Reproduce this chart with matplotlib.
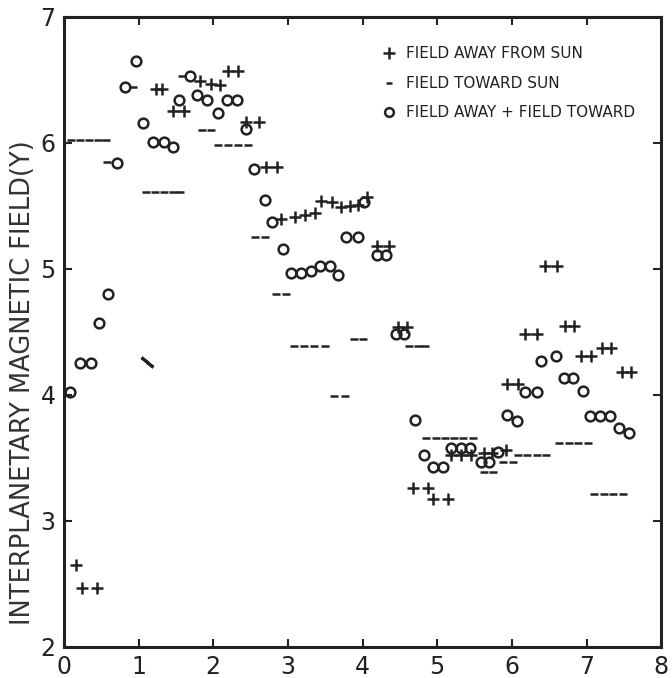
import matplotlib
matplotlib.use('Agg')
from matplotlib import pyplot as plt

# field away from sun (+)
away_x = [0.16, 0.24, 0.44, 1.23, 1.32, 1.46, 1.61, 1.83, 1.97, 2.09,
          2.20, 2.33, 2.44, 2.62, 2.71, 2.85, 2.91, 3.09, 3.23, 3.36,
          3.45, 3.59, 3.71, 3.83, 3.94, 4.06, 4.20, 4.36, 4.47, 4.60,
          4.68, 4.88, 4.94, 5.14, 5.19, 5.32, 5.45, 5.62, 5.74, 5.92,
          5.93, 6.08, 6.17, 6.33, 6.44, 6.60, 6.71, 6.83, 6.93, 7.06,
          7.20, 7.33, 7.47, 7.60]
away_y = [2.65, 2.47, 2.47, 6.43, 6.43, 6.25, 6.25, 6.49, 6.47, 6.46,
          6.57, 6.57, 6.17, 6.17, 5.81, 5.81, 5.40, 5.41, 5.43, 5.44,
          5.54, 5.53, 5.49, 5.50, 5.51, 5.57, 5.18, 5.18, 4.54, 4.54,
          3.26, 3.26, 3.17, 3.17, 3.52, 3.52, 3.52, 3.54, 3.54, 3.56,
          4.09, 4.09, 4.48, 4.48, 5.02, 5.02, 4.55, 4.55, 4.31, 4.31,
          4.37, 4.37, 4.18, 4.18]

# field toward sun (-)
toward_x = [0.10, 0.22, 0.34, 0.46, 0.56, 0.58, 0.93, 1.10, 1.22, 1.34,
            1.46, 1.56, 1.58, 1.85, 1.97, 2.07, 2.20, 2.33, 2.46, 2.56,
            2.70, 2.84, 2.97, 3.08, 3.22, 3.35, 3.50, 3.62, 3.76, 3.88,
            4.01, 4.62, 4.74, 4.84, 4.85, 4.98, 5.10, 5.22, 5.35, 5.48,
            5.62, 5.75, 5.88, 6.01, 6.08, 6.20, 6.33, 6.46, 6.63, 6.76,
            6.89, 7.02, 7.10, 7.23, 7.36, 7.49]
toward_y = [6.02, 6.02, 6.02, 6.02, 6.02, 5.85, 6.44, 5.61, 5.61, 5.61,
            5.61, 5.61, 6.53, 6.10, 6.10, 5.98, 5.98, 5.98, 5.98, 5.25,
            5.25, 4.80, 4.80, 4.39, 4.39, 4.39, 4.39, 3.99, 3.99, 4.44,
            4.44, 4.39, 4.39, 4.39, 3.66, 3.66, 3.66, 3.66, 3.66, 3.66,
            3.39, 3.39, 3.47, 3.47, 3.52, 3.52, 3.52, 3.52, 3.62, 3.62,
            3.62, 3.62, 3.21, 3.21, 3.21, 3.21]
slant_x = [1.12]
slant_y = [4.26]

# field away + field toward (o)
both_x = [0.08, 0.21, 0.36, 0.47, 0.59, 0.71, 0.82, 0.96, 1.06, 1.19,
          1.34, 1.46, 1.54, 1.69, 1.78, 1.92, 2.06, 2.18, 2.32, 2.44,
          2.54, 2.69, 2.79, 2.94, 3.04, 3.18, 3.31, 3.43, 3.57, 3.67,
          3.78, 3.94, 4.02, 4.19, 4.32, 4.45, 4.56, 4.70, 4.82, 4.94,
          5.08, 5.19, 5.32, 5.44, 5.59, 5.70, 5.81, 5.93, 6.07, 6.17,
          6.33, 6.39, 6.59, 6.70, 6.82, 6.95, 7.05, 7.18, 7.31, 7.43,
          7.57]
both_y = [4.02, 4.25, 4.25, 4.57, 4.80, 5.84, 6.44, 6.65, 6.16, 6.01,
          6.01, 5.97, 6.34, 6.53, 6.38, 6.34, 6.24, 6.34, 6.34, 6.11,
          5.79, 5.55, 5.37, 5.16, 4.97, 4.97, 4.98, 5.02, 5.02, 4.95,
          5.25, 5.25, 5.53, 5.11, 5.11, 4.48, 4.48, 3.80, 3.52, 3.43,
          3.43, 3.58, 3.58, 3.58, 3.47, 3.47, 3.55, 3.84, 3.79, 4.02,
          4.02, 4.27, 4.31, 4.13, 4.13, 4.03, 3.83, 3.83, 3.83, 3.74,
          3.70]

ink = '#222222'

fig = plt.figure(figsize=(6.72, 6.78), dpi=100)
ax = fig.add_axes([0.095, 0.046, 0.889, 0.929])

ax.plot(away_x, away_y, linestyle='none', marker='+', ms=9, mew=1.8,
        color=ink, label='FIELD AWAY FROM SUN')
ax.plot(toward_x, toward_y, linestyle='none', marker='_', ms=5.5, mew=1.8,
        color=ink, label='FIELD TOWARD SUN')
ax.plot(both_x, both_y, linestyle='none', marker='o', ms=7, mew=1.8,
        mfc='none', mec=ink, label='FIELD AWAY + FIELD TOWARD')
ax.plot(slant_x, slant_y, linestyle='none', marker=(2, 2, 50), ms=11,
        mew=2.2, color=ink)

ax.set_xlim(0, 8)
ax.set_ylim(2, 7)
ax.set_xticks(range(0, 9))
ax.set_yticks(range(2, 8))
ax.tick_params(direction='in', top=True, right=True, length=6, width=1.5,
               labelsize=17, pad=6, colors=ink)
for s in ax.spines.values():
    s.set_linewidth(2.2)
    s.set_color(ink)

ax.set_ylabel('INTERPLANETARY MAGNETIC FIELD(Y)', fontsize=18.5,
              color='#333333')
ax.yaxis.set_label_coords(-0.047, 0.42)

leg = ax.legend(loc='upper left', bbox_to_anchor=(0.508, 0.975), frameon=False,
                fontsize=11, handlelength=1.0, handletextpad=0.6,
                labelspacing=0.95, markerscale=0.9)
for t in leg.get_texts():
    t.set_color(ink)

plt.savefig('out.png')
